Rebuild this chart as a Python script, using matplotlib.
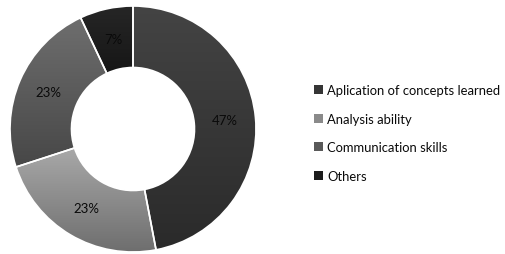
import numpy as np
import matplotlib.pyplot as plt
import matplotlib.colors as mcolors
from matplotlib.patches import Patch

# data
categories = ['Aplication of concepts learned', 'Analysis ability',
              'Communication skills', 'Others']
shares = [47, 23, 23, 7]
colors = ['#353535', '#8a8a8a', '#595959', '#1c1c1c']

plt.rcParams['font.family'] = ['Lato', 'DejaVu Sans']

fig = plt.figure(figsize=(5.05, 2.55), dpi=100)

# donut on the left
ax = fig.add_axes([(133 - 123) / 505, (255 - 130 - 123) / 255, 246 / 505, 246 / 255])
wedges, texts, autotexts = ax.pie(
    shares, colors=colors, startangle=90, counterclock=False, radius=1.0,
    autopct='%d%%', pctdistance=0.75,
    wedgeprops=dict(width=0.5, edgecolor='white', linewidth=1.2),
    textprops=dict(color='#0a0a0a', fontsize=9.5))

# soft vertical gradient inside each wedge, like the original
for w, c in zip(wedges, colors):
    rgb = np.array(mcolors.to_rgb(c))
    top = np.clip(rgb * 1.18 + 0.02, 0, 1)
    bot = rgb * 0.80
    t = np.linspace(0, 1, 64)[:, None]
    grad = top * (1 - t) + bot * t
    img = np.repeat(grad[:, None, :], 2, axis=1)
    bb = w.get_path().get_extents(w.get_patch_transform())
    im = ax.imshow(img, extent=[bb.x0, bb.x1, bb.y0, bb.y1], origin='upper',
                   interpolation='bilinear', zorder=1)
    im.set_clip_path(w)
    w.set_facecolor('none')
    w.set_zorder(2)
for t in autotexts:
    t.set_zorder(3)

ax.set_xlim(-1.0, 1.0)
ax.set_ylim(-1.0, 1.0)
ax.set_aspect('equal')
ax.axis('off')

# legend on the right
handles = [Patch(facecolor=c, edgecolor='none') for c in colors]
fig.legend(handles, categories, loc='upper left', bbox_to_anchor=(314 / 505, 1 - 85 / 255),
           frameon=False, fontsize=9.4, handlelength=0.7, handleheight=0.7,
           handletextpad=0.3, labelspacing=1.28, borderpad=0, borderaxespad=0,
           labelcolor='#0a0a0a')

fig.savefig('out.png', dpi=100)
